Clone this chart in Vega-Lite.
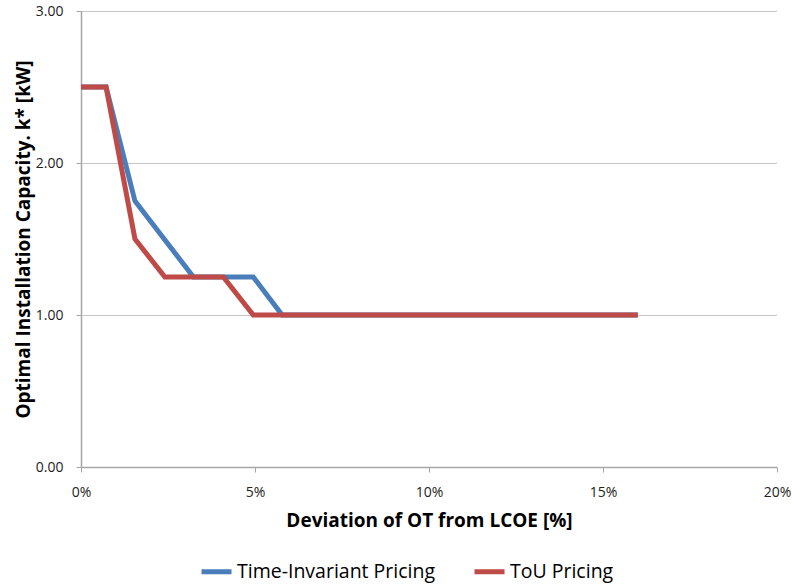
{
  "$schema": "https://vega.github.io/schema/vega-lite/v6.json",
  "width": 696,
  "height": 456,
  "autosize": {"type": "none"},
  "padding": {"left": 81, "top": 11, "right": 15, "bottom": 119},
  "background": "white",
  "config": {"view": {"stroke": null}, "font": "Open Sans"},
  "data": {
    "values": [
      {"x": 0, "y": 2.5, "series": "Time-Invariant Pricing"},
      {"x": 0.72, "y": 2.5, "series": "Time-Invariant Pricing"},
      {"x": 1.55, "y": 1.75, "series": "Time-Invariant Pricing"},
      {"x": 3.23, "y": 1.25, "series": "Time-Invariant Pricing"},
      {"x": 4.95, "y": 1.25, "series": "Time-Invariant Pricing"},
      {"x": 5.78, "y": 1.0, "series": "Time-Invariant Pricing"},
      {"x": 16, "y": 1.0, "series": "Time-Invariant Pricing"},
      {"x": 0, "y": 2.5, "series": "ToU Pricing"},
      {"x": 0.72, "y": 2.5, "series": "ToU Pricing"},
      {"x": 1.55, "y": 1.5, "series": "ToU Pricing"},
      {"x": 2.41, "y": 1.25, "series": "ToU Pricing"},
      {"x": 4.09, "y": 1.25, "series": "ToU Pricing"},
      {"x": 4.95, "y": 1.0, "series": "ToU Pricing"},
      {"x": 16, "y": 1.0, "series": "ToU Pricing"}
    ]
  },
  "mark": {"type": "line", "strokeWidth": 5, "strokeJoin": "miter", "strokeCap": "butt"},
  "encoding": {
    "x": {
      "field": "x",
      "type": "quantitative",
      "scale": {"domain": [0, 20], "nice": false, "zero": true},
      "axis": {
        "values": [0, 5, 10, 15, 20],
        "labelExpr": "datum.value + '%'",
        "labelFlush": false,
        "grid": false,
        "domainColor": "#a6a6a6",
        "domainWidth": 1.5,
        "tickColor": "#a6a6a6",
        "tickSize": 5,
        "labelFontSize": 14,
        "labelColor": "#222222",
        "labelPadding": 13,
        "title": "Deviation of OT from LCOE [%]",
        "titleFontSize": 19,
        "titleFontWeight": "bold",
        "titleColor": "#000000",
        "titlePadding": 12
      }
    },
    "y": {
      "field": "y",
      "type": "quantitative",
      "scale": {"domain": [0, 3], "nice": false},
      "axis": {
        "values": [0, 1, 2, 3],
        "format": ".2f",
        "grid": true,
        "gridColor": "#8c8c8c",
        "gridDash": [1, 1],
        "gridWidth": 1,
        "domainColor": "#a6a6a6",
        "domainWidth": 1.5,
        "tickColor": "#a6a6a6",
        "tickSize": 5,
        "labelFontSize": 14,
        "labelColor": "#222222",
        "labelPadding": 13,
        "title": "Optimal Installation Capacity. k* [kW]",
        "titleFontSize": 19,
        "titleFontWeight": "bold",
        "titleColor": "#000000",
        "titlePadding": 2
      }
    },
    "color": {
      "field": "series",
      "type": "nominal",
      "scale": {"domain": ["Time-Invariant Pricing", "ToU Pricing"], "range": ["#4a7ebb", "#be4b48"]},
      "legend": {
        "title": null,
        "orient": "none",
        "direction": "horizontal",
        "legendX": 118,
        "legendY": 543,
        "symbolType": "stroke",
        "symbolStrokeWidth": 5,
        "symbolSize": 900,
        "labelFontSize": 19.5,
        "labelLimit": 0,
        "labelColor": "#000000",
        "labelOffset": 3,
        "columnPadding": 28
      }
    }
  }
}
